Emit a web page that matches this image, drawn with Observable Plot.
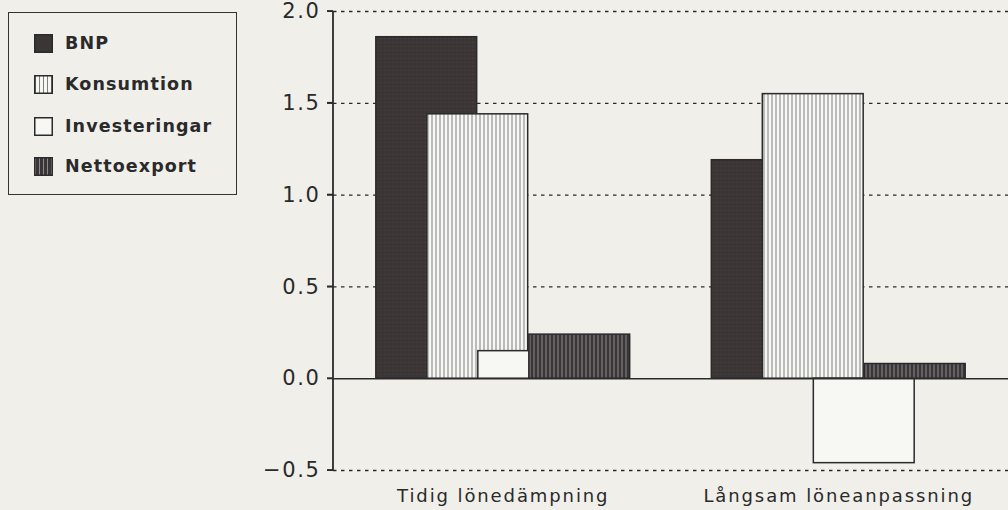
<!DOCTYPE html>
<html>
<head>
<meta charset="utf-8">
<script src="https://cdn.jsdelivr.net/npm/d3@7"></script>
<script src="https://cdn.jsdelivr.net/npm/@observablehq/plot@0.6"></script>
<style>
  html, body { margin: 0; padding: 0; background: #f0efea; }
  #wrap { position: relative; width: 1008px; height: 510px; overflow: hidden; }
  #legend {
    position: absolute; left: 8px; top: 12px; width: 227px; height: 181px;
    border: 1.5px solid #333; box-sizing: content-box;
    font-family: "DejaVu Sans", sans-serif; font-size: 17.5px; font-weight: bold;
    color: #2a2a2a; letter-spacing: 1.1px;
  }
  .row { position: absolute; left: 25px; height: 20px; display: flex; align-items: center; }
  g[aria-label="x-axis tick label"] text, g[aria-label="x-axis tick label"] { font-size: 18px; letter-spacing: 1.9px; }
</style>
</head>
<body>
<div id="wrap"><div id="legend"></div></div>
<script>
// ---- data ----
const groups = ["Tidig lönedämpning", "Långsam löneanpassning"];
const series = ["BNP", "Konsumtion", "Investeringar", "Nettoexport"];
const valuesTidig = [1.86, 1.44, 0.15, 0.24];
const valuesLangsam = [1.19, 1.55, -0.46, 0.08];
const yTicks = [-0.5, 0.0, 0.5, 1.0, 1.5, 2.0];
const gridTicks = [-0.5, 0.5, 1.0, 1.5, 2.0];

const rows = [];
[valuesTidig, valuesLangsam].forEach((vals, gi) => {
  vals.forEach((v, si) => rows.push({group: groups[gi], series: series[si], value: v}));
});

const fills = ["url(#p-bnp)", "url(#p-kons)", "#f7f7f3", "url(#p-netto)"];
const ink = "#2a2a2a";

// y-axis line and tick marks, drawn from the y scale and the plot dimensions
function yAxisLine(index, scales, values, dimensions) {
  const {marginLeft, marginTop, marginBottom, height} = dimensions;
  const g = d3.create("svg:g").attr("aria-label", "y-axis line").attr("stroke", ink).attr("stroke-width", 1.8).attr("fill", "none");
  g.append("line").attr("x1", marginLeft).attr("x2", marginLeft)
    .attr("y1", marginTop).attr("y2", height - marginBottom);
  g.selectAll(".t").data(yTicks).join("line")
    .attr("x1", marginLeft - 6).attr("x2", marginLeft)
    .attr("y1", d => scales.y(d)).attr("y2", d => scales.y(d));
  return g.node();
}

const marks = [
  Plot.gridY(gridTicks, {stroke: ink, strokeOpacity: 1, strokeWidth: 1.3, strokeDasharray: "3.5,4.5"}),
  ...series.map((s, i) => Plot.barY(rows.filter(r => r.series === s), {
    x: "group", y1: 0, y2: "value", dx: (i - 1.5) * 51,
    fill: fills[i], stroke: ink, strokeWidth: 1.5
  })),
  Plot.ruleY([0], {stroke: ink, strokeWidth: 1.5}),
  yAxisLine
];

const chart = Plot.plot({
  width: 1008, height: 510,
  marginLeft: 333, marginRight: 0, marginTop: 11, marginBottom: 40,
  style: {background: "transparent", fontFamily: "DejaVu Sans, sans-serif", fontSize: "21px", color: ink, letterSpacing: "1.6px", overflow: "visible"},
  x: {domain: groups, range: [335, 1006], paddingInner: 0.6994, paddingOuter: 0.3497, round: false,
      label: null, tickSize: 0, tickPadding: 19},
  y: {domain: [-0.5, 2.0], label: null, ticks: yTicks, tickFormat: d3.format(".1f"),
      tickSize: 6, tickPadding: 7},
  marks
});

// patterns
const svg = d3.select(chart);
const defs = svg.insert("defs", ":first-child");
const pb = defs.append("pattern").attr("id", "p-bnp").attr("patternUnits", "userSpaceOnUse").attr("width", 4).attr("height", 4);
pb.append("rect").attr("width", 4).attr("height", 4).attr("fill", "#3b3536");
pb.append("rect").attr("x", 1).attr("y", 2).attr("width", 1).attr("height", 1).attr("fill", "#4c4647");
const pk = defs.append("pattern").attr("id", "p-kons").attr("patternUnits", "userSpaceOnUse").attr("width", 4).attr("height", 4);
pk.append("rect").attr("width", 4).attr("height", 4).attr("fill", "#f6f6f2");
pk.append("rect").attr("x", 1).attr("width", 1).attr("height", 4).attr("fill", "#7f7f7f");
const pn = defs.append("pattern").attr("id", "p-netto").attr("patternUnits", "userSpaceOnUse").attr("width", 4).attr("height", 4);
pn.append("rect").attr("width", 4).attr("height", 4).attr("fill", "#3a3536");
pn.append("rect").attr("x", 1).attr("width", 1).attr("height", 4).attr("fill", "#8c8888");

document.getElementById("wrap").prepend(chart);

// legend
const legend = document.getElementById("legend");
const swFills = ["#3b3536", "url(#p-kons)", "#f7f7f3", "url(#p-netto)"];
const tops = [20, 61, 103, 143];
series.forEach((s, i) => {
  const row = document.createElement("div");
  row.className = "row";
  row.style.top = tops[i] + "px";
  const sw = document.createElementNS("http://www.w3.org/2000/svg", "svg");
  sw.setAttribute("width", 19); sw.setAttribute("height", 19);
  sw.style.marginRight = "12px";
  const r = document.createElementNS("http://www.w3.org/2000/svg", "rect");
  r.setAttribute("x", 0.75); r.setAttribute("y", 0.75); r.setAttribute("width", 17.5); r.setAttribute("height", 17.5);
  r.setAttribute("fill", swFills[i]); r.setAttribute("stroke", ink); r.setAttribute("stroke-width", 1.5);
  sw.appendChild(r);
  row.appendChild(sw);
  const t = document.createElement("span");
  t.textContent = s;
  row.appendChild(t);
  legend.appendChild(row);
});
</script>
</body>
</html>
